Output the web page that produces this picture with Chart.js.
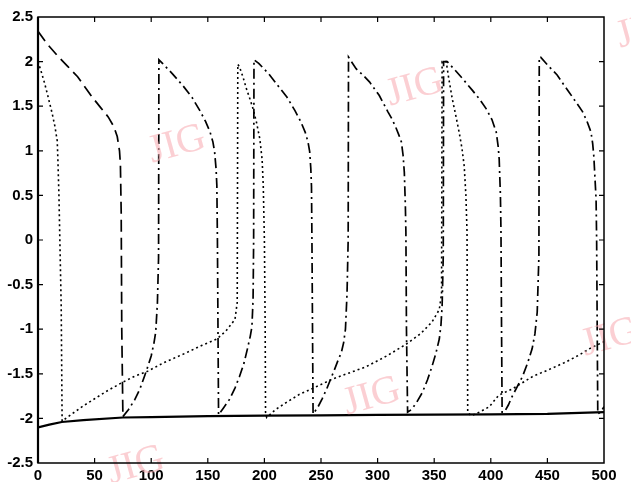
<!DOCTYPE html>
<html>
<head>
<meta charset="utf-8">
<script src="https://cdn.jsdelivr.net/npm/chart.js@4.4.1/dist/chart.umd.min.js"></script>
<style>
  html, body { margin: 0; padding: 0; background: #fff; }
  #wrap { width: 631px; height: 482px; }
</style>
</head>
<body>
<div id="wrap"><canvas id="c" width="631" height="482"></canvas></div>
<script>
// ---- data ----
const xTicks = [0, 50, 100, 150, 200, 250, 300, 350, 400, 450, 500];
const xTickLabels = ['0', '50', '100', '150', '200', '250', '300', '350', '400', '450', '500'];
const yTicks = [-2.5, -2, -1.5, -1, -0.5, 0, 0.5, 1, 1.5, 2, 2.5];
const yTickLabels = ['-2.5', '-2', '-1.5', '-1', '-0.5', '0', '0.5', '1', '1.5', '2', '2.5'];

// oscillator A (dashed / dash-dot)
const oscAx = [
  0, 8, 17.6, 26, 35, 48, 55, 62, 67, 70, 72, 72.8, 73.5, 74, 75,
  80, 85.5, 90, 94, 97, 100, 102.5, 104, 105.5, 106.5, 106.8,
  110, 119, 128, 136, 143, 148, 152, 154.5, 156, 157.3, 158, 158.5, 159, 159.5,
  164, 169, 174, 178, 182, 185, 187.5, 189, 190, 190.5, 190.8,
  195, 204, 212, 220, 227, 232, 236, 238.5, 240, 241, 241.6, 242, 242.5, 243,
  247, 251, 255, 258.5, 262, 265, 268, 270, 271.6, 273, 274, 274.3,
  281, 287, 293, 301.5, 309, 313, 316.5, 319, 321, 322.5, 323.6, 324.5, 325, 325.5, 326.5,
  330, 334.5, 339.5, 344, 348, 351.5, 354.5, 356, 357, 358, 358.3,
  361.5, 368, 375, 383.6, 390, 396, 401, 404.8, 406.5, 407.4, 408.5, 409, 409.5, 410,
  412, 415.5, 419, 423.5, 428, 432.5, 436.5, 439, 441, 442.5, 442.8,
  444, 451, 458.6, 464, 469, 475, 481, 485, 488.5, 490, 491, 492, 493, 493.5, 494, 494.5,
  497, 500
];
const oscAy = [
  2.34, 2.2, 2.06, 1.95, 1.83, 1.6, 1.49, 1.38, 1.27, 1.16, 1.0, 0.85, 0.3, -1.0, -1.98,
  -1.9, -1.79, -1.67, -1.53, -1.42, -1.30, -1.15, -1.03, -0.7, -0.2, 2.02,
  1.98, 1.86, 1.73, 1.6, 1.45, 1.33, 1.21, 1.1, 0.99, 0.8, 0.61, 0, -1.0, -1.96,
  -1.88, -1.79, -1.66, -1.53, -1.38, -1.22, -1.08, -0.97, -0.66, 0, 2.02,
  1.98, 1.86, 1.73, 1.6, 1.45, 1.33, 1.21, 1.1, 0.99, 0.8, 0.6, 0, -1.0, -1.95,
  -1.88, -1.78, -1.67, -1.56, -1.45, -1.35, -1.26, -1.15, -1.0, -0.6, 0, 2.05,
  1.92, 1.85, 1.77, 1.62, 1.44, 1.35, 1.25, 1.17, 1.10, 0.95, 0.76, 0.4, 0.09, -1.0, -1.93,
  -1.9, -1.82, -1.71, -1.57, -1.42, -1.27, -1.11, -0.95, -0.74, -0.18, 2.0,
  2.0, 1.91, 1.81, 1.68, 1.58, 1.47, 1.35, 1.21, 1.05, 0.91, 0.5, 0.09, -1.0, -1.93,
  -1.93, -1.85, -1.75, -1.64, -1.53, -1.38, -1.22, -1.05, -0.81, -0.18, 2.05,
  2.05, 1.95, 1.85, 1.75, 1.66, 1.55, 1.44, 1.33, 1.21, 1.08, 0.94, 0.7, 0.46, 0, -1.0, -1.95,
  -1.93, -1.87
];

// oscillator B (dotted)
const oscBx = [
  0, 3, 6, 9, 12.5, 15, 17, 17.6, 18.5, 20.5, 21.3,
  30, 40, 50, 60, 74, 85, 97, 112, 130, 145, 158, 166, 171, 174, 176, 176.5,
  178, 181, 184, 187, 190, 193, 196, 198, 199, 200, 200.7, 201, 202,
  210, 219.5, 231, 245, 260, 275, 290, 308, 325, 338, 348, 354.5, 356.5, 357,
  360.6, 363, 366, 369, 372, 374.5, 376.5, 378, 379, 379.3, 379.6, 382.5,
  390, 398.6, 407, 419, 437, 450, 466, 478, 487, 490, 500
];
const oscBy = [
  2.0, 1.88, 1.75, 1.6, 1.42, 1.27, 1.11, 0.89, 0.5, -0.74, -2.03,
  -1.95, -1.86, -1.78, -1.70, -1.6, -1.53, -1.47, -1.37, -1.27, -1.18, -1.11, -1.02, -0.94, -0.89, -0.70, 1.97,
  1.94, 1.83, 1.7, 1.59, 1.47, 1.32, 1.13, 0.9, 0.61, 0, -1.0, -1.93, -1.99,
  -1.9, -1.82, -1.73, -1.65, -1.56, -1.49, -1.42, -1.3, -1.17, -1.05, -0.92, -0.78, -0.6, 2.0,
  2.0, 1.8, 1.58, 1.4, 1.21, 1.03, 0.83, 0.5, 0.09, -1.0, -1.93, -1.97,
  -1.93, -1.87, -1.74, -1.67, -1.53, -1.46, -1.37, -1.29, -1.22, -1.2, -1.14
];

// global inhibitor (solid)
const inhibX = [0, 10, 21, 40, 75, 100, 150, 200, 250, 300, 400, 450, 500];
const inhibY = [-2.1, -2.07, -2.04, -2.02, -1.99, -1.985, -1.975, -1.97, -1.965, -1.96, -1.955, -1.95, -1.93];

const pts = (xs, ys) => xs.map((x, i) => ({ x, y: ys[i] }));
const firstBranchEnd = 14; // end of first descending branch of A

const watermarks = [
  { x: 177, y: 145 }, { x: 415, y: 88 }, { x: 372, y: 397 },
  { x: 610, y: 338 }, { x: 645, y: 30 }, { x: 136, y: 466 }
];

const frame = {
  id: 'frame',
  afterDatasetsDraw(chart) {
    const { ctx, chartArea: a, scales: { x, y } } = chart;
    ctx.save();
    // watermarks
    ctx.fillStyle = 'rgba(248,175,182,0.6)';
    ctx.font = '40px "Liberation Serif", "DejaVu Serif", serif';
    ctx.textAlign = 'center';
    ctx.textBaseline = 'middle';
    watermarks.forEach(w => {
      ctx.save();
      ctx.translate(w.x, w.y);
      ctx.rotate(-0.27);
      ctx.fillText('JIG', 0, 0);
      ctx.restore();
    });
    // box
    ctx.strokeStyle = '#000';
    ctx.lineWidth = 1.5;
    ctx.strokeRect(a.left, a.top, a.right - a.left, a.bottom - a.top);
    ctx.lineWidth = 2.2;
    ctx.beginPath();
    ctx.moveTo(a.left, a.top); ctx.lineTo(a.left, a.bottom);
    ctx.stroke();
    // inward ticks
    ctx.lineWidth = 1.2;
    const tl = 5;
    ctx.beginPath();
    xTicks.forEach(v => {
      const px = x.getPixelForValue(v);
      if (px <= a.left + 1 || px >= a.right - 1) return;
      ctx.moveTo(px, a.bottom); ctx.lineTo(px, a.bottom - tl);
      ctx.moveTo(px, a.top); ctx.lineTo(px, a.top + tl);
    });
    yTicks.forEach(v => {
      const py = y.getPixelForValue(v);
      if (py <= a.top + 1 || py >= a.bottom - 1) return;
      ctx.moveTo(a.left, py); ctx.lineTo(a.left + tl, py);
      ctx.moveTo(a.right, py); ctx.lineTo(a.right - tl, py);
    });
    ctx.stroke();
    ctx.restore();
  }
};

const tickFont = { family: '"Liberation Sans", Arial, sans-serif', size: 15, weight: 'bold' };

new Chart(document.getElementById('c'), {
  type: 'line',
  data: {
    datasets: [
      {
        data: pts(oscAx, oscAy),
        borderColor: '#000', borderWidth: 1.7,
        borderDash: [10, 4, 2, 4],
        segment: { borderDash: ctx => ctx.p0DataIndex < firstBranchEnd ? [12, 6] : undefined },
        pointRadius: 0, tension: 0, fill: false
      },
      {
        data: pts(oscBx, oscBy),
        borderColor: '#000', borderWidth: 1.6,
        borderDash: [2, 3],
        pointRadius: 0, tension: 0, fill: false
      },
      {
        data: pts(inhibX, inhibY),
        borderColor: '#000', borderWidth: 2.2,
        pointRadius: 0, tension: 0, fill: false
      }
    ]
  },
  options: {
    responsive: false,
    animation: false,
    events: [],
    layout: { padding: { top: 17, right: 27, left: 0, bottom: 0 } },
    plugins: { legend: { display: false }, tooltip: { enabled: false } },
    scales: {
      x: {
        type: 'linear', min: 0, max: 500,
        afterFit: s => { s.height = 19; },
        afterBuildTicks: s => { s.ticks = xTicks.map(v => ({ value: v })); },
        grid: { display: false, drawTicks: false },
        border: { display: false },
        ticks: {
          autoSkip: false, maxRotation: 0, minRotation: 0, padding: 4,
          color: '#000', font: tickFont,
          callback: v => xTickLabels[xTicks.indexOf(v)]
        }
      },
      y: {
        type: 'linear', min: -2.5, max: 2.5,
        afterFit: s => { s.width = 38; },
        afterBuildTicks: s => { s.ticks = yTicks.map(v => ({ value: v })); },
        grid: { display: false, drawTicks: false },
        border: { display: false },
        ticks: {
          autoSkip: false, padding: 5,
          color: '#000', font: tickFont,
          callback: v => yTickLabels[yTicks.indexOf(v)]
        }
      }
    }
  },
  plugins: [frame]
});
</script>
</body>
</html>
